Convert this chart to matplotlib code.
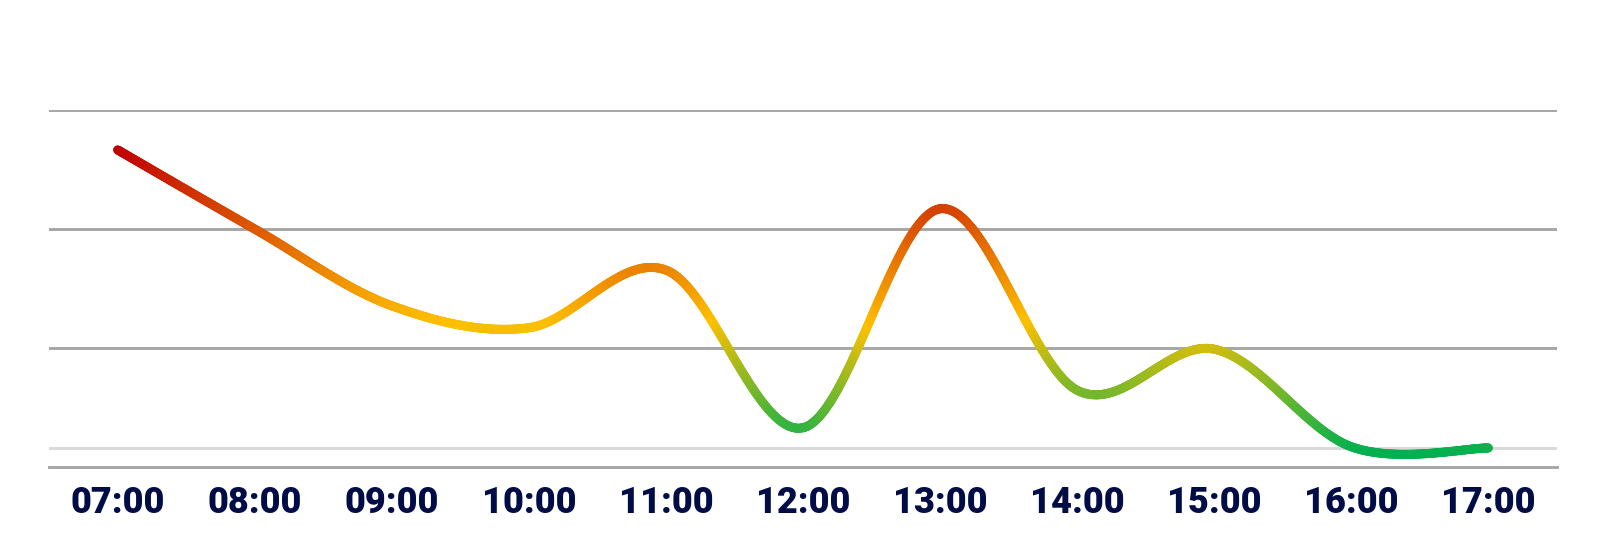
import numpy as np
import matplotlib
matplotlib.use("Agg")
import matplotlib.pyplot as plt
from matplotlib.collections import LineCollection
from matplotlib.colors import LinearSegmentedColormap

# 数据
hours = ['07:00', '08:00', '09:00', '10:00', '11:00', '12:00',
         '13:00', '14:00', '15:00', '16:00', '17:00']
values = [53.3, 40.0, 27.1, 23.4, 33.1, 6.6, 43.4, 12.9, 19.8, 3.4, 3.2]
ref_level = 3.2
grid_levels = [20, 40, 60]


def smooth_curve(xs, ys, n=120):
    # 三次贝塞尔平滑 (Catmull-Rom, 1/6)
    pts = np.column_stack([xs, ys]).astype(float)
    m = len(pts)
    out = []
    for i in range(m - 1):
        p0 = pts[max(i - 1, 0)]
        p1 = pts[i]
        p2 = pts[i + 1]
        p3 = pts[min(i + 2, m - 1)]
        c1 = p1 + (p2 - p0) / 6.0
        c2 = p2 - (p3 - p1) / 6.0
        t = np.linspace(0, 1, n)[:, None]
        seg = ((1 - t) ** 3) * p1 + 3 * ((1 - t) ** 2) * t * c1 + 3 * (1 - t) * t ** 2 * c2 + t ** 3 * p2
        out.append(seg if i == 0 else seg[1:])
    return np.vstack(out)


x = np.arange(len(hours))
curve = smooth_curve(x, values)

fig = plt.figure(figsize=(16.08, 5.53), dpi=100)
ax = fig.add_axes([49 / 1608, (553 - 467) / 553, 1508 / 1608, 357 / 553])
ax.set_xlim(-0.5, len(hours) - 0.5)
ax.set_ylim(0, 60)

for g in grid_levels:
    ax.axhline(g, color='#A6A6A6', lw=2.1, zorder=1)
ax.axhline(ref_level, color='#D9D9D9', lw=2.1, zorder=1)

for s in ['top', 'right', 'left']:
    ax.spines[s].set_visible(False)
ax.spines['bottom'].set_color('#A6A6A6')
ax.spines['bottom'].set_linewidth(2.1)

# 渐变线: 红 -> 黄 -> 绿 (黄色偏下)
cmap = LinearSegmentedColormap.from_list('ryg', [(0, '#00B050'), (0.43, '#FFC000'), (1, '#C00000')])
ymin, ymax = curve[:, 1].min(), curve[:, 1].max()
segs = np.stack([curve[:-1], curve[1:]], axis=1)
mid = (curve[:-1, 1] + curve[1:, 1]) / 2
colors = cmap((mid - ymin) / (ymax - ymin))
lc = LineCollection(segs, colors=colors, linewidths=6.5, capstyle='round', joinstyle='round', zorder=3)
ax.add_collection(lc)

ax.set_xticks(x)
ax.set_xticklabels(hours, fontfamily='Roboto', fontweight='black', fontsize=26, color='#000C45')
ax.tick_params(axis='x', length=0, pad=13)
ax.set_yticks([])

fig.savefig('out.png', dpi=100, facecolor='white')
